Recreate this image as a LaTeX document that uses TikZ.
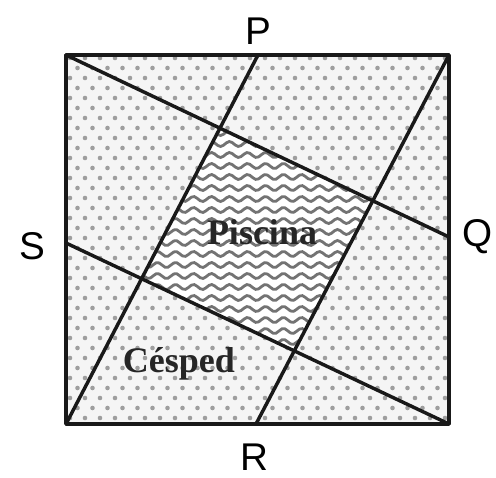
\documentclass[tikz,border=0pt]{standalone}
\usepackage{fontspec}
\setmainfont{Liberation Serif}
\newfontfamily\labfont{Liberation Sans}
\begin{document}
\begin{tikzpicture}[x=0.75pt,y=-0.75pt,
  edge/.style={line width=2.6pt,black!90,line cap=round,line join=round},
  vlabel/.style={font=\labfont\fontsize{29}{31}\selectfont,inner sep=0pt,text=black},
  region/.style={font=\bfseries\fontsize{27}{30}\selectfont,inner sep=0pt,text=black!85},
  dotmark/.style={fill=black!38},
  wave/.style={line width=2.1pt,black!55}]
\useasboundingbox (0,0) rectangle (496,478);
\fill[white] (0,0) rectangle (496,478);
% corners and side points
\coordinate (TL) at (66,55);
\coordinate (TR) at (449,55);
\coordinate (BR) at (449,424);
\coordinate (BL) at (66,424);
\coordinate (Pp) at (258,55);
\coordinate (Qp) at (449,237);
\coordinate (Rp) at (256,424);
\coordinate (Sp) at (66,243);
% intersections
\coordinate (I12) at (intersection of TL--Qp and Pp--BL);
\coordinate (I13) at (intersection of TL--Qp and TR--Rp);
\coordinate (I34) at (intersection of TR--Rp and Sp--BR);
\coordinate (I24) at (intersection of Pp--BL and Sp--BR);
% background lawn
\fill[black!4] (TL) rectangle (BR);
\begin{scope}
\clip (TL) rectangle (BR);
\foreach \j in {0,...,37}{
  \pgfmathsetmacro{\yy}{58+10*\j}
  \pgfmathsetmacro{\off}{mod(\j,2)*7.5}
  \foreach \i in {0,...,26}{
    \fill[dotmark] ({70+\off+15*\i},\yy) circle (2.3);
  }
}
\end{scope}
% pool
\fill[white] (I12) -- (I13) -- (I34) -- (I24) -- cycle;
\begin{scope}
\clip (I12) -- (I13) -- (I34) -- (I24) -- cycle;
\foreach \k in {0,...,22}{
  \pgfmathsetmacro{\yb}{122+11*\k}
  \draw[wave] plot[smooth,domain=130:390,samples=90] (\x,{\yb+2.5*sin(20*\x)});
}
\end{scope}
% lines
\draw[edge] (TL) rectangle (BR);
\draw[edge] (TL) -- (Qp);
\draw[edge] (Pp) -- (BL);
\draw[edge] (TR) -- (Rp);
\draw[edge] (Sp) -- (BR);
% labels
\node[vlabel] (P) at (258,31) {P};
\node[vlabel] (Q) at (478,237) {Q};
\node[vlabel] (R) at (254,457) {R};
\node[vlabel] (S) at (32,246) {S};
\node[region] (pis) at (262,232) {Piscina};
\node[region] (ces) at (179,364) {Césped};
\end{tikzpicture}
\end{document}
